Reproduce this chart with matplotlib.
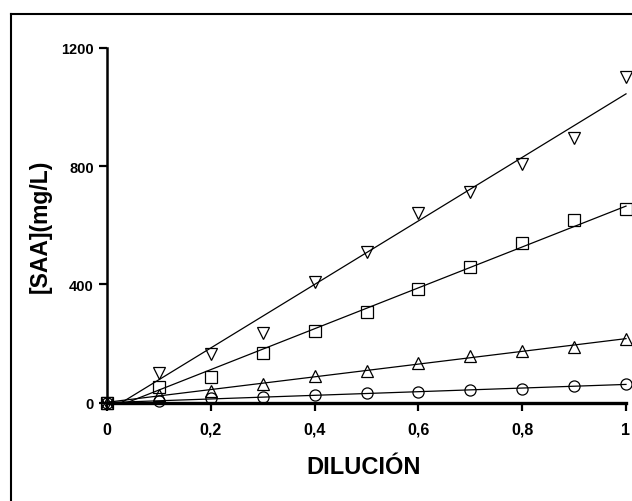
import numpy as np
import matplotlib
matplotlib.use("Agg")
import matplotlib.pyplot as plt
from matplotlib.lines import Line2D

plt.rcParams['font.family'] = ['Liberation Sans', 'DejaVu Sans']
plt.rcParams['font.weight'] = 'bold'

dilution = [0, 0.1, 0.2, 0.3, 0.4, 0.5, 0.6, 0.7, 0.8, 0.9, 1.0]
series_tri_down = [0, 100, 163, 236, 408, 510, 640, 713, 809, 897, 1103]
series_square = [0, 52, 87, 168, 242, 307, 383, 457, 541, 617, 654]
series_tri_up = [0, 24, 38, 64, 89, 108, 135, 159, 174, 188, 214]
series_circle = [0, 4, 14, 18, 25, 31, 36, 42, 47, 55, 63]
xticks = [0, 0.2, 0.4, 0.6, 0.8, 1.0]
xtick_labels = ['0', '0,2', '0,4', '0,6', '0,8', '1']
yticks = [0, 400, 800, 1200]
ytick_labels = ['0', '400', '800', '1200']

W, H = 632, 502
fig = plt.figure(figsize=(W / 100, H / 100), dpi=100)

# outer frame (left and top visible)
fig.add_artist(Line2D([11 / W, 11 / W], [0, 1 - 15 / H], transform=fig.transFigure,
                      color='black', lw=1.5))
fig.add_artist(Line2D([11 / W, 1], [1 - 15 / H, 1 - 15 / H], transform=fig.transFigure,
                      color='black', lw=1.5))

x0, x1 = 107, 626
y0, y1 = 403.5, 49
ax = fig.add_axes([x0 / W, 1 - y0 / H, (x1 - x0) / W, (y0 - y1) / H])
ax.set_xlim(0, 1)
ax.set_ylim(0, 1200)

x = np.array(dilution)
for ys, m in [(series_tri_down, 'v'), (series_square, 's'),
              (series_tri_up, '^'), (series_circle, 'o')]:
    ys = np.array(ys, dtype=float)
    slope, icpt = np.polyfit(x, ys, 1)
    xs = max(0.0, -icpt / slope)
    ax.plot([xs, 1.0], [slope * xs + icpt, slope * 1.0 + icpt], color='black', lw=0.9,
            clip_on=False, zorder=2)
    ax.plot(x, ys, linestyle='none', marker=m, markersize=8.5 if m != 'o' else 8,
            markerfacecolor='none', markeredgecolor='black', markeredgewidth=0.9,
            clip_on=False, zorder=3)

for s in ['top', 'right']:
    ax.spines[s].set_visible(False)
ax.spines['left'].set_linewidth(1.8)
ax.spines['bottom'].set_linewidth(2.4)

ax.set_xticks(xticks)
ax.set_xticklabels(xtick_labels, fontsize=11.5, fontweight='bold')
ax.set_yticks(yticks)
ax.set_yticklabels(ytick_labels, fontsize=10.5, fontweight='bold')
ax.tick_params(axis='both', length=5.5, width=1.6, direction='out', color='black')
ax.tick_params(axis='x', pad=8.5)
ax.tick_params(axis='y', pad=4)

fig.text(364 / W, 1 - 468 / H, 'DILUCIÓN', ha='center', va='center',
         fontsize=17, fontweight='bold')
fig.text(40 / W, 1 - 226 / H, '[SAA](mg/L)', ha='center', va='center',
         rotation=90, fontsize=16.5, fontweight='bold')

fig.savefig('out.png', dpi=100)
